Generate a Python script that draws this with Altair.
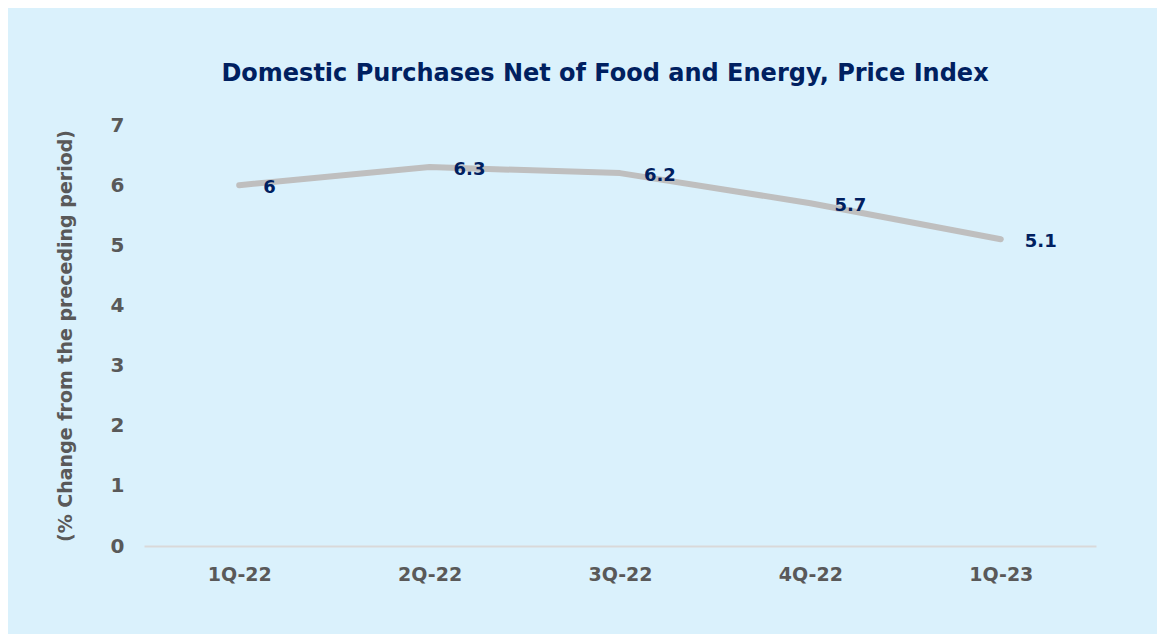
import altair as alt
import pandas as pd

quarters = ["1Q-22", "2Q-22", "3Q-22", "4Q-22", "1Q-23"]
values = [6, 6.3, 6.2, 5.7, 5.1]
labels = ["6", "6.3", "6.2", "5.7", "5.1"]

df = pd.DataFrame({"quarter": quarters, "value": values, "label": labels})

FONT = "DejaVu Sans"

x = alt.X(
    "quarter:N",
    sort=quarters,
    scale=alt.Scale(paddingInner=0, paddingOuter=0.0),
    axis=alt.Axis(
        title=None, labelAngle=0, ticks=False, domain=True,
        domainColor="#D9D9D9", domainWidth=2,
        labelFont=FONT, labelFontSize=19, labelFontWeight="bold",
        labelColor="#595959", labelPadding=19, grid=False,
    ),
)
y = alt.Y(
    "value:Q",
    scale=alt.Scale(domain=[0, 7], nice=False),
    axis=alt.Axis(
        title="(% Change from the preceding period)",
        values=[0, 1, 2, 3, 4, 5, 6, 7], format="d",
        ticks=False, domain=False, grid=False,
        labelFont=FONT, labelFontSize=20, labelFontWeight="bold",
        labelColor="#595959", labelPadding=20,
        titleFont=FONT, titleFontSize=19, titleFontWeight="bold",
        titleColor="#595959", titlePadding=35,
    ),
)

line = alt.Chart(df).mark_line(
    color="#BFBFBF", strokeWidth=6, strokeCap="round", strokeJoin="round"
).encode(x=x, y=y)

text = alt.Chart(df).mark_text(
    align="left", baseline="middle", dx=24, dy=3,
    font=FONT, fontSize=18, fontWeight="bold", color="#002060",
).encode(x=x, y=y, text="label:N")

chart = (
    alt.layer(line, text)
    .properties(
        width=952,
        height=421,
        title=alt.TitleParams(
            "Domestic Purchases Net of Food and Energy, Price Index",
            font=FONT, fontSize=24, fontWeight="bold", color="#002060",
            anchor="middle", dx=-15, offset=29,
        ),
        background="#DAF1FC",
        padding={"left": 136, "top": 117, "right": 61, "bottom": 88},
        autosize=alt.AutoSizeParams(type="none"),
    )
    .configure_view(stroke=None)
)

chart.save("out.html", embed_options={"renderer": "svg", "actions": False})
